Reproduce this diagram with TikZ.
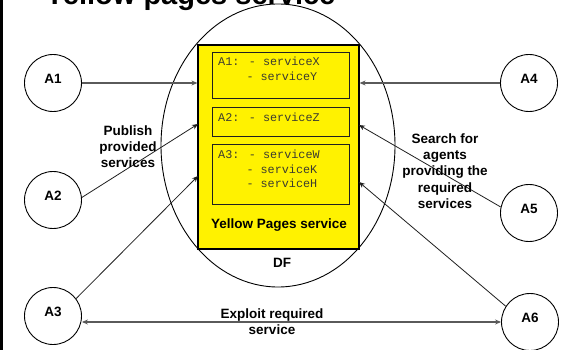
\documentclass[tikz,border=0pt]{standalone}
\usepackage{fontspec}
\setmainfont{Liberation Sans}
\newfontfamily\monof{Liberation Mono}
\usetikzlibrary{arrows.meta,shapes.geometric}
\definecolor{monogray}{HTML}{3C3C30}
\definecolor{boxgray}{HTML}{202020}
\definecolor{arrgray}{HTML}{202020}
\definecolor{hgray}{HTML}{5A5A5A}
\begin{document}
\begin{tikzpicture}[x=1pt,y=-1pt,
 agent/.style={circle,draw=black,line width=0.9pt,minimum size=57pt,inner sep=0pt,font=\bfseries\fontsize{13.5}{16}\selectfont,text depth=8pt},
 lbl/.style={font=\bfseries\fontsize{13.5}{16.2}\selectfont,align=center,inner sep=0pt},
 mono/.style={font=\monof\fontsize{11.8}{14}\selectfont,text=monogray,anchor=base west,inner sep=0pt},
 ybox/.style={draw=boxgray,line width=0.9pt,minimum width=137pt,inner sep=0pt},
 arr/.style={-{Stealth[length=6pt,width=5pt]},draw=arrgray,line width=0.8pt},
 harr/.style={-{Stealth[length=6pt,width=5pt]},draw=hgray,line width=1.5pt},
 dharr/.style={{Stealth[length=6pt,width=5pt]}-{Stealth[length=6pt,width=5pt]},draw=hgray,line width=1.5pt},
]
\useasboundingbox (0,0) rectangle (565,350);
\fill[white] (0,0) rectangle (565,350);
\begin{scope}
 \clip (0,0) rectangle (565,350);
 \node[anchor=base west,font=\bfseries\fontsize{29}{31}\selectfont,inner sep=0pt] (title) at (45,5) {Yellow pages service};
\end{scope}
\fill[black] (0,0) rectangle (3,350);

% DF ellipse and yellow pages
\node[draw=black,line width=0.9pt,ellipse,minimum width=234pt,minimum height=283pt,inner sep=0pt] (df) at (278,145.5) {};
\node[fill=yellow,draw=black,line width=1.2pt,minimum width=161pt,minimum height=204pt,inner sep=0pt] (yp) at (278.5,147) {};
\node[ybox,minimum height=46pt] (b1) at (280.5,75) {};
\node[ybox,minimum height=29pt] (b2) at (280.5,121.5) {};
\node[ybox,minimum height=60pt] (b3) at (280.5,174) {};

\node[mono] (t1a) at (218,66) {A1: - serviceX};
\node[mono] (t1b) at (246.3,81) {- serviceY};
\node[mono] (t2) at (218,122) {A2: - serviceZ};
\node[mono] (t3a) at (218,159) {A3: - serviceW};
\node[mono] (t3b) at (246.3,173) {- serviceK};
\node[mono] (t3c) at (246.3,187) {- serviceH};

\node[lbl,anchor=base] (yps) at (279,228) {Yellow Pages service};
\node[lbl,anchor=base] (dfl) at (282,267) {DF};

% agents
\node[agent] (a1) at (53,83) {A1};
\node[agent] (a2) at (53,200) {A2};
\node[agent] (a3) at (53,316) {A3};
\node[agent] (a4) at (529,83) {A4};
\node[agent] (a5) at (529,213) {A5};
\node[agent] (a6) at (530,322) {A6};

\coordinate (l2) at (198,124);
\coordinate (l3) at (198,176);
\coordinate (r5) at (359,125);
\coordinate (r6) at (359,182);

\draw[harr] (a1.east) -- (a1.east -| yp.west);
\draw[arr] (a2.5) -- (l2);
\draw[arr] (a3.37) -- (l3);
\draw[harr] (a4.west) -- (a4.west -| yp.east);
\draw[arr] (a5.168) -- (r5);
\draw[arr] (a6.147) -- (r6);
\draw[dharr] (a6.west -| a3.east) -- (a6.west);

% labels
\node[lbl] (pub) at (128,146.5) {Publish\\provided\\services};
\node[lbl] (srch) at (445,171) {Search for\\agents\\providing the\\required\\services};
\node[lbl] (expl) at (272,321.5) {Exploit required\\service};
\end{tikzpicture}
\end{document}
